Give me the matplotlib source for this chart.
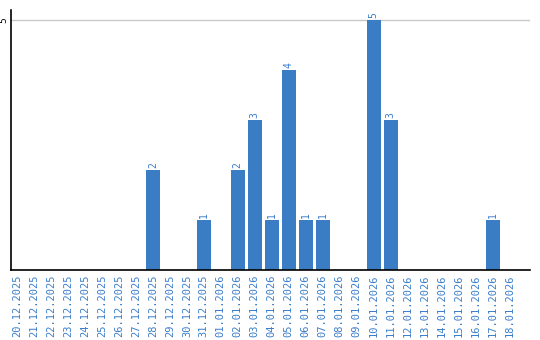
import matplotlib.pyplot as plt

dates = ["20.12.2025", "21.12.2025", "22.12.2025", "23.12.2025", "24.12.2025",
         "25.12.2025", "26.12.2025", "27.12.2025", "28.12.2025", "29.12.2025",
         "30.12.2025", "31.12.2025", "01.01.2026", "02.01.2026", "03.01.2026",
         "04.01.2026", "05.01.2026", "06.01.2026", "07.01.2026", "08.01.2026",
         "09.01.2026", "10.01.2026", "11.01.2026", "12.01.2026", "13.01.2026",
         "14.01.2026", "15.01.2026", "16.01.2026", "17.01.2026", "18.01.2026"]
counts = [0, 0, 0, 0, 0, 0, 0, 0, 2, 0,
          0, 1, 0, 2, 3, 1, 4, 1, 1, 0,
          0, 5, 3, 0, 0, 0, 0, 0, 1, 0]

bar_color = "#3b7dc4"
label_color = "#3a7dc9"

fig = plt.figure(figsize=(5.4, 3.4), dpi=100)
ax = fig.add_axes([11 / 540, 70 / 340, 519 / 540, 260 / 340])

x = list(range(len(dates)))
ax.bar(x, counts, width=0.82, color=bar_color, zorder=2)
for xi, c in zip(x, counts):
    if c > 0:
        ax.text(xi, c + 0.04, str(c), rotation=90, ha="center", va="bottom",
                fontsize=7, color=label_color, family="DejaVu Sans Mono")

ax.set_xlim(-0.35, 30.2)
ax.set_ylim(0, 5.2)
ax.set_xticks(x)
ax.set_xticklabels(dates, rotation=90, fontsize=7.5, color=label_color,
                   family="DejaVu Sans Mono")
ax.set_yticks([5])
ax.set_yticklabels(["5"], rotation=90, fontsize=6.5, va="center")
ax.tick_params(axis="both", length=0, pad=3)
ax.tick_params(axis="y", pad=2)
ax.axhline(5, color="#c8c8c8", linewidth=1, zorder=1)

for side in ["top", "right"]:
    ax.spines[side].set_visible(False)
ax.spines["left"].set_linewidth(1.2)
ax.spines["bottom"].set_linewidth(1.2)

fig.savefig("out.png", dpi=100)
